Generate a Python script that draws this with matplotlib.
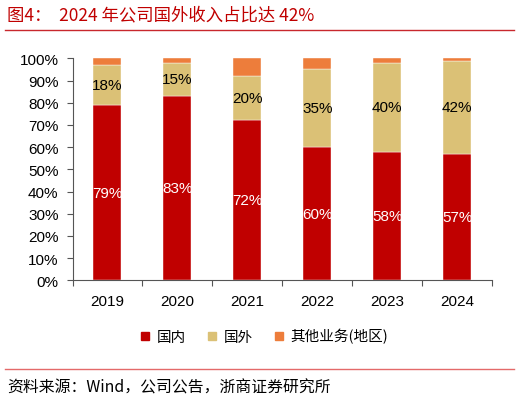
import matplotlib
matplotlib.use("Agg")
import matplotlib.pyplot as plt
from matplotlib.lines import Line2D
import numpy as np

years = ["2019", "2020", "2021", "2022", "2023", "2024"]
domestic = [79, 83, 72, 60, 58, 57]
foreign = [18, 15, 20, 35, 40, 42]
other = [3, 2, 8, 5, 2, 1]
series_names = ["国内", "国外", "其他业务(地区)"]
title_text = "图4：  2024 年公司国外收入占比达 42%"
source_text = "资料来源：Wind，公司公告，浙商证券研究所"

c_dom = "#C00000"
c_for = "#DBC176"
c_oth = "#ED7D3B"

cjk = ["Noto Sans CJK SC", "DejaVu Sans"]
latin = ["Liberation Sans", "DejaVu Sans"]

W, H = 520, 402
fig = plt.figure(figsize=(W / 100, H / 100), dpi=100)
left, right, top, bottom = 72.5, 492, 59.3, 281.3
ax = fig.add_axes([left / W, 1 - bottom / H, (right - left) / W, (bottom - top) / H])

x = np.arange(len(years))
bw = 0.4
dom = np.array(domestic, float)
fo = np.array(foreign, float)
ot = np.array(other, float)
ax.bar(x, dom, bw, color=c_dom, edgecolor="white", linewidth=0.3)
ax.bar(x, fo, bw, bottom=dom, color=c_for, edgecolor="white", linewidth=0.3)
ax.bar(x, ot, bw, bottom=dom + fo, color=c_oth, edgecolor="white", linewidth=0.3)

for i in range(len(years)):
    ax.text(x[i], dom[i] / 2, f"{domestic[i]}%", ha="center", va="center",
            color="white", fontsize=11, family=latin)
    ax.text(x[i], dom[i] + fo[i] / 2, f"{foreign[i]}%", ha="center", va="center",
            color="black", fontsize=11, family=latin)

ax.set_xlim(-0.5, len(years) - 0.5)
ax.set_ylim(0, 100)
ax.set_yticks(np.arange(0, 101, 10))
ax.set_yticklabels([f"{v}%" for v in range(0, 101, 10)], family=latin, fontsize=11)
ax.set_xticks(x)
ax.set_xticklabels(years, family=latin, fontsize=11)
ax.set_xticks(np.arange(-0.5, len(years), 1), minor=True)
ax.tick_params(axis="x", which="major", length=0, pad=10)
ax.tick_params(axis="x", which="minor", length=4, width=0.8, color="#555555", direction="out")
ax.tick_params(axis="y", length=4, width=0.8, color="#555555", pad=6, direction="out")
for s in ["top", "right"]:
    ax.spines[s].set_visible(False)
for s in ["left", "bottom"]:
    ax.spines[s].set_color("#555555")
    ax.spines[s].set_linewidth(0.8)

handles = [Line2D([], [], marker="s", linestyle="none", markersize=6,
                  markerfacecolor=c, markeredgecolor=c)
           for c in [c_dom, c_for, c_oth]]
fig.legend(handles, series_names, loc="center", bbox_to_anchor=(263 / W, 1 - 337 / H),
           ncol=3, frameon=False, prop={"family": cjk, "size": 10.5},
           handletextpad=0.3, columnspacing=1.3, handlelength=1.0)

fig.text(7 / W, 1 - 15 / H, title_text, color="#C00000", fontsize=12.5,
         family=cjk, ha="left", va="center")
fig.add_artist(Line2D([5 / W, 514 / W], [1 - 30.5 / H, 1 - 30.5 / H],
                      color="#C8282D", linewidth=1.0))
fig.add_artist(Line2D([5 / W, 514 / W], [1 - 370 / H, 1 - 370 / H],
                      color="#E46A6A", linewidth=1.0))
fig.text(7 / W, 1 - 388 / H, source_text, color="black", fontsize=11.4,
         family=cjk, ha="left", va="center")

fig.savefig("out.png", dpi=100)
